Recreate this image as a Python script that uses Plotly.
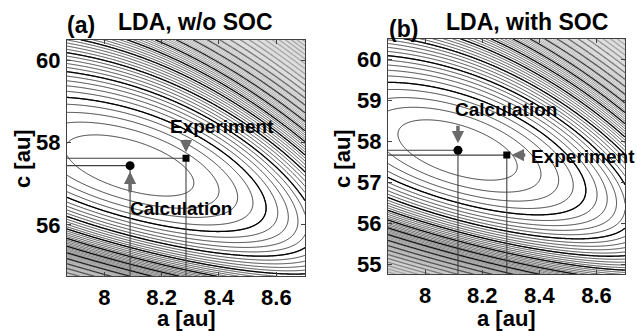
import numpy as np
import plotly.graph_objects as go

# ---------------- data ----------------
panel_titles = ["LDA, w/o SOC", "LDA, with SOC"]
panel_tags = ["(a)", "(b)"]
a_range = [7.87, 8.70]
c_range = [54.75, 60.5]
x_ticks = [8.0, 8.2, 8.4, 8.6]
x_tick_text = ["8", "8.2", "8.4", "8.6"]
y_ticks_a = [56, 58, 60]
y_ticks_b = [55, 56, 57, 58, 59, 60]

# calculated equilibrium (energy minimum) and experimental lattice constants
calc_a = [8.09, 8.115]
calc_c = [57.44, 57.78]
exp_a = [8.285, 8.286]
exp_c = [57.62, 57.66]

# energy-surface shape around the minimum (estimated from the contours)
tilt_deg = [-17.0, -18.0]
half_major = [0.75, 0.70]   # in units of 0.35 au (a) / 2.415 au (c)
half_minor = [0.28, 0.28]
stiff_up = [2.2, 2.2]       # extra stiffening towards large a and c
stiff_down = [10.0, 10.0]   # extra stiffening towards small c
level_step = 0.8
levels_end = 180

# ---------------- figure ----------------
fig = go.Figure()
FONT = "Arial, Liberation Sans, sans-serif"

agrid = np.linspace(a_range[0], a_range[1], 320)
cgrid = np.linspace(c_range[0], c_range[1], 320)
A, C = np.meshgrid(agrid, cgrid)

thin_scale = [[0.0, "#000000"], [0.1, "#202020"], [0.17, "#858585"],
              [0.25, "#c0c0c0"], [0.45, "#d0d0d0"], [1.0, "#b0b0b0"]]
thick_scale = [[0.0, "#000000"], [0.12, "#151515"], [0.2, "#686868"],
               [0.3, "#a8a8a8"], [1.0, "#a0a0a0"]]

for i in range(2):
    xa = "x" if i == 0 else "x2"
    ya = "y" if i == 0 else "y2"
    u = (A - calc_a[i]) / 0.35
    v = (C - calc_c[i]) / 2.415
    phi = np.deg2rad(tilt_deg[i])
    p = u * np.cos(phi) + v * np.sin(phi)
    q = -u * np.sin(phi) + v * np.cos(phi)
    w1 = 0.707 * (u + v)
    w2 = 0.26 * u + 0.966 * v
    E = ((p / half_major[i]) ** 2 + (q / half_minor[i]) ** 2
         + stiff_up[i] * np.clip(w1, 0, None) ** 4
         + stiff_down[i] * np.clip(-w2, 0, None) ** 4)

    for size, width, scale in [(level_step, 0.75, thin_scale),
                               (5 * level_step, 1.3, thick_scale)]:
        fig.add_trace(go.Contour(
            x=agrid, y=cgrid, z=E, xaxis=xa, yaxis=ya,
            contours=dict(coloring="lines", start=size, end=levels_end, size=size),
            line=dict(width=width), colorscale=scale, zmin=0, zmax=levels_end,
            showscale=False, hoverinfo="skip"))

    # guide lines to the axes
    for pa, pc in [(calc_a[i], calc_c[i]), (exp_a[i], exp_c[i])]:
        fig.add_trace(go.Scatter(
            x=[a_range[0], pa, pa], y=[pc, pc, c_range[0]], mode="lines",
            line=dict(color="#404040", width=1.1), xaxis=xa, yaxis=ya,
            showlegend=False, hoverinfo="skip"))
    fig.add_trace(go.Scatter(x=[calc_a[i]], y=[calc_c[i]], mode="markers",
                             marker=dict(symbol="circle", size=9, color="black"),
                             xaxis=xa, yaxis=ya, showlegend=False))
    fig.add_trace(go.Scatter(x=[exp_a[i]], y=[exp_c[i]], mode="markers",
                             marker=dict(symbol="square", size=7, color="black"),
                             xaxis=xa, yaxis=ya, showlegend=False))

axis_common = dict(showgrid=False, zeroline=False, ticks="inside", ticklen=4,
                   tickcolor="#404040", linecolor="#404040", linewidth=1,
                   showline=True, mirror="ticks",
                   tickfont=dict(family=FONT, size=22, color="black", weight="bold"))

fig.update_layout(
    width=637, height=331, margin=dict(l=0, r=0, t=0, b=0),
    paper_bgcolor="white", plot_bgcolor="white", showlegend=False,
    xaxis=dict(domain=[67 / 637, 305 / 637], range=a_range, tickvals=x_ticks,
               ticktext=x_tick_text, anchor="y", ticklabelstandoff=1, **axis_common),
    yaxis=dict(domain=[53 / 331, 291 / 331], range=c_range, tickvals=y_ticks_a,
               anchor="x", ticklabelstandoff=1, **axis_common),
    xaxis2=dict(domain=[388 / 637, 625 / 637], range=a_range, tickvals=x_ticks,
                ticktext=x_tick_text, anchor="y2", ticklabelstandoff=1, **axis_common),
    yaxis2=dict(domain=[55 / 331, 292 / 331], range=c_range, tickvals=y_ticks_b,
                anchor="x2", ticklabelstandoff=1, **axis_common),
)

def txt(text, x, y, size, **kw):
    d = dict(text=text, x=x, y=y, xref="paper", yref="paper", showarrow=False,
             font=dict(family=FONT, size=size, color="black", weight="bold"),
             xanchor="center", yanchor="middle")
    d.update(kw)
    fig.add_annotation(**d)

# panel tags and titles
txt(panel_tags[0], 81 / 637, 1 - 25 / 331, 23)
txt(panel_titles[0], 195 / 637, 1 - 22 / 331, 23)
txt(panel_tags[1], 403 / 637, 1 - 29 / 331, 23)
txt(panel_titles[1], 527 / 637, 1 - 22 / 331, 23)
# axis titles
txt("a [au]", 186 / 637, 1 - 320 / 331, 22)
txt("a [au]", 506 / 637, 1 - 320 / 331, 22)
txt("c [au]", 22 / 637, 1 - 160 / 331, 22, textangle=-90)
txt("c [au]", 342 / 637, 1 - 160 / 331, 22, textangle=-90)

# labels and arrows
arrow_style = dict(showarrow=True, arrowhead=2, arrowsize=0.7, arrowwidth=3.5,
                   arrowcolor="#6a6a6a", text="")
lab_font = dict(family=FONT, size=19, color="black", weight="bold")
# (a)
fig.add_annotation(x=exp_a[0], y=exp_c[0], xref="x", yref="y", ax=0, ay=-20,
                   standoff=6, **arrow_style)
fig.add_annotation(x=exp_a[0], y=exp_c[0], xref="x", yref="y", text="Experiment",
                   showarrow=False, xshift=36, yshift=32, font=lab_font)
fig.add_annotation(x=calc_a[0], y=calc_c[0], xref="x", yref="y", ax=0, ay=28,
                   standoff=6, **arrow_style)
fig.add_annotation(x=calc_a[0], y=calc_c[0], xref="x", yref="y", text="Calculation",
                   showarrow=False, xshift=51, yshift=-43, font=lab_font)
# (b)
fig.add_annotation(x=calc_a[1], y=calc_c[1], xref="x2", yref="y2", ax=0, ay=-26,
                   standoff=7, **arrow_style)
fig.add_annotation(x=calc_a[1], y=calc_c[1], xref="x2", yref="y2", text="Calculation",
                   showarrow=False, xshift=48, yshift=41, font=lab_font)
fig.add_annotation(x=exp_a[1], y=exp_c[1], xref="x2", yref="y2", ax=20, ay=0,
                   standoff=5, **arrow_style)
fig.add_annotation(x=exp_a[1], y=exp_c[1], xref="x2", yref="y2", text="Experiment",
                   showarrow=False, xshift=76, yshift=-1, font=lab_font)

fig.write_html("out.html", config={"displayModeBar": False},
               post_script="document.body.style.margin='0px';")
